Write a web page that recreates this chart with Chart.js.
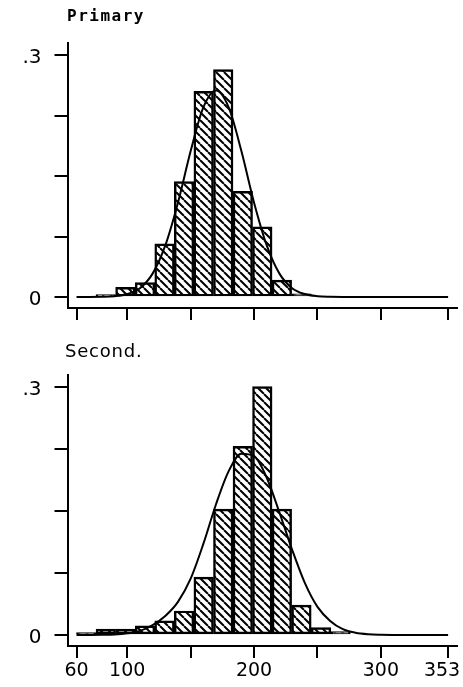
<!DOCTYPE html>
<html>
<head>
<meta charset="utf-8">
<script src="https://cdn.jsdelivr.net/npm/chart.js@4"></script>
<style>
  body { margin: 0; background: #fff; width: 463px; height: 687px; position: relative; overflow: hidden; }
  canvas { position: absolute; left: 0; }
  .title { position: absolute; color: #000; white-space: nowrap; }
</style>
</head>
<body>
<canvas id="primary" width="463" height="335" style="top:0px"></canvas>
<canvas id="second" width="463" height="357" style="top:330px"></canvas>
<div class="title" style="left:67px; top:8px; font:bold 16px 'DejaVu Sans Mono'; line-height:16px; letter-spacing:1.5px;">Primary</div>
<div class="title" style="left:65px; top:342px; font:18px 'DejaVu Sans'; line-height:18px; letter-spacing:0.8px;">Second.</div>
<script>
// histogram bins (19 equal bins from 60 to 353)
const binEdges = [60, 75.4, 90.8, 106.3, 121.7, 137.1, 152.5, 168.0, 183.4, 198.8, 214.2,
                  229.6, 245.1, 260.5, 275.9, 291.3, 306.7, 322.2, 337.6, 353];

// relative frequency per bin
const primaryBars = [0, 0.003, 0.012, 0.018, 0.066, 0.143, 0.255, 0.282, 0.131, 0.087,
                     0.021, 0.004, 0, 0, 0, 0, 0, 0, 0];
const secondBars = [0.003, 0.007, 0.007, 0.011, 0.017, 0.029, 0.070, 0.152, 0.228, 0.300,
                    0.152, 0.036, 0.009, 0.004, 0, 0, 0, 0, 0];

// fitted normal curves
const curveX = [60, 70, 80, 90, 100, 110, 120, 130, 140, 150, 160, 170, 180, 190, 200,
                210, 220, 230, 240, 250, 260, 270, 280, 290, 300, 320, 353];
const primaryCurve = [0, 0, 0.0002, 0.001, 0.0037, 0.011, 0.029, 0.064, 0.117, 0.181, 0.235, 0.256,
                      0.235, 0.181, 0.117, 0.064, 0.029, 0.011, 0.0037, 0.001, 0.0002, 0, 0, 0, 0, 0, 0];
const secondCurve = [0, 0, 0.0002, 0.0006, 0.002, 0.005, 0.012, 0.023, 0.040, 0.068, 0.110, 0.158,
                     0.198, 0.219, 0.216, 0.190, 0.148, 0.103, 0.063, 0.034, 0.017, 0.007, 0.0027,
                     0.0009, 0.0003, 0, 0];

// axis ticks (last label padded with a figure space so it sits inside the page)
const xTicks = [60, 100, 150, 200, 250, 300, 353];
const xTickLabels = ['60', '100', '', '200', '', '300', '353\u2007'];
const yTicks = [0, 0.075, 0.15, 0.225, 0.3];
const yTickLabels = ['0', '', '', '', '.3'];

function hatch() {
  const s = 8;
  const c = document.createElement('canvas');
  c.width = s; c.height = s;
  const g = c.getContext('2d');
  g.strokeStyle = '#000';
  g.lineWidth = 2;
  g.beginPath();
  for (let x0 = -s; x0 <= s; x0 += s) {
    g.moveTo(x0, 0);
    g.lineTo(x0 + s, s);
  }
  g.stroke();
  return g.createPattern(c, 'repeat');
}

const pattern = hatch();

function makeChart(id, bars, curve, cfg) {
  const centers = bars.map((v, i) => (binEdges[i] + binEdges[i + 1]) / 2);
  return new Chart(document.getElementById(id), {
    type: 'bar',
    data: {
      datasets: [{
        type: 'line',
        data: curveX.map((x, i) => ({ x: x, y: curve[i] })),
        borderColor: '#000',
        borderWidth: 2,
        pointRadius: 0,
        cubicInterpolationMode: 'monotone',
        fill: false,
        order: 0
      }, {
        type: 'bar',
        data: centers.map((x, i) => ({ x: x, y: bars[i] })),
        backgroundColor: pattern,
        borderColor: '#000',
        borderWidth: 1.8,
        borderSkipped: false,
        barPercentage: 1,
        categoryPercentage: 1,
        order: 1
      }]
    },
    options: {
      responsive: false,
      animation: false,
      devicePixelRatio: 1,
      layout: { padding: { top: cfg.top, right: 6, left: 0, bottom: 0 } },
      plugins: { legend: { display: false }, tooltip: { enabled: false }, title: { display: false } },
      scales: {
        x: {
          type: 'linear',
          offset: false,
          min: 52.9,
          max: 360,
          border: { display: true, color: '#000', width: 2 },
          grid: { offset: false, drawOnChartArea: false, drawTicks: true, tickLength: 12, color: '#000', lineWidth: 2 },
          ticks: {
            autoSkip: false,
            maxRotation: 0,
            padding: 2,
            color: '#000',
            font: { family: 'DejaVu Sans', size: 19 },
            callback: (v, i) => cfg.showX ? xTickLabels[i] : ''
          },
          afterBuildTicks: s => { s.ticks = xTicks.map(v => ({ value: v })); },
          afterFit: s => { s.height = cfg.xHeight; s.paddingLeft = 0; s.paddingRight = 0; }
        },
        y: {
          min: cfg.yMin,
          max: cfg.yMax,
          border: { display: true, color: '#000', width: 2 },
          grid: { drawOnChartArea: false, drawTicks: true, tickLength: 13, color: '#000', lineWidth: 2 },
          ticks: {
            autoSkip: false,
            padding: 13,
            labelOffset: 3,
            color: '#000',
            font: { family: 'DejaVu Sans', size: 20 },
            callback: (v, i) => yTickLabels[i]
          },
          afterBuildTicks: s => { s.ticks = yTicks.map(v => ({ value: v })); },
          afterFit: s => { s.width = 67.5; s.paddingTop = 0; s.paddingBottom = 0; }
        }
      }
    }
  });
}

makeChart('primary', primaryBars, primaryCurve, {
  top: 43, xHeight: 27, yMin: -0.0136, yMax: 0.3149, showX: false
});
makeChart('second', secondBars, secondCurve, {
  top: 45, xHeight: 41, yMin: -0.0133, yMax: 0.3141, showX: true
});
</script>
</body>
</html>
